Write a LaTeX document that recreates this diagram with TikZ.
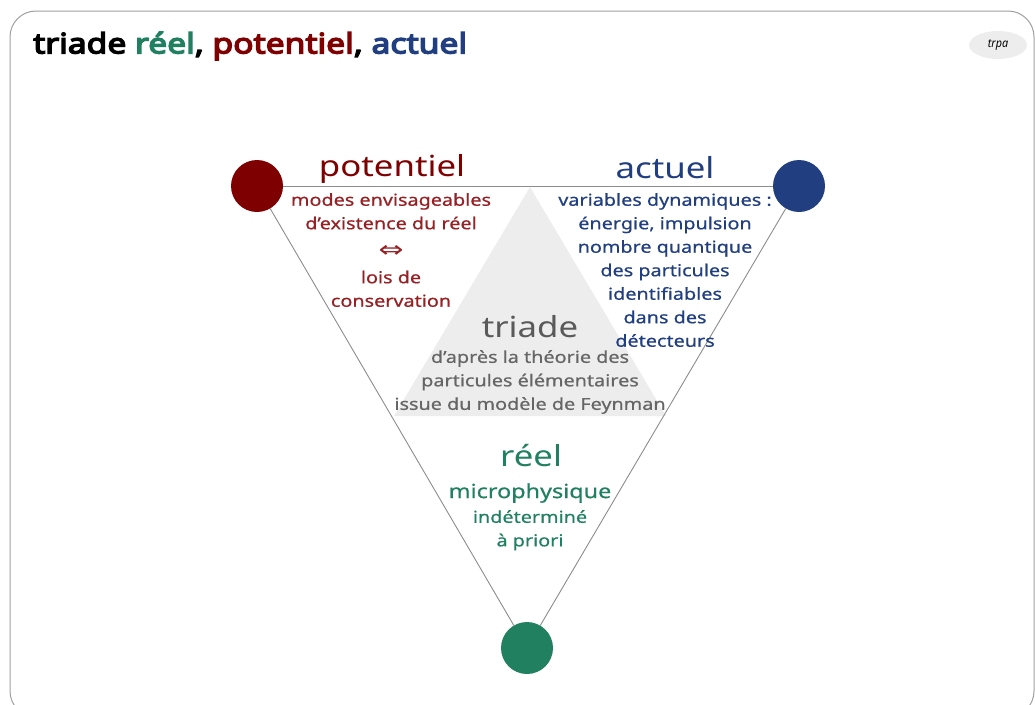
\documentclass[tikz,border=0pt]{standalone}
\usepackage{fontspec}
\usepackage{graphicx}
\setmainfont{Noto Sans}[FakeStretch=1.2]
\newfontfamily\dejavu{DejaVu Sans}
\usetikzlibrary{shapes.geometric}
\definecolor{cpot}{HTML}{7F0000}
\definecolor{cpott}{HTML}{962024}
\definecolor{cact}{HTML}{213F80}
\definecolor{creel}{HTML}{21805F}
\definecolor{ctri}{HTML}{5A5A5A}
\definecolor{ctrit}{HTML}{666666}
\definecolor{cline}{HTML}{8C8C8C}
\definecolor{cframe}{HTML}{A0A0A0}
\definecolor{cgray}{HTML}{EDEDED}
\tikzset{
  vertex/.style={circle,minimum size=52pt,inner sep=0pt},
  edge/.style={draw=cline,line width=0.9pt},
  bigtxt/.style={font=\fontsize{29}{34}\selectfont,inner sep=0pt,anchor=center},
  smalltxt/.style={font=\fontsize{16.5}{23.5}\selectfont\addfontfeature{FakeBold=0.6},align=center,inner sep=0pt,anchor=north},
}
\begin{document}
\begin{tikzpicture}[x=1pt,y=-1pt]
\useasboundingbox (0,0) rectangle (1035,704);
\draw[cframe,line width=1pt,rounded corners=26pt] (10,11) rectangle (1034,717);
% title
\node[anchor=west,inner sep=0pt,font=\fontsize{28}{30}\selectfont\addfontfeature{FakeBold=5}] (title) at (33,46)
  {triade \textcolor{creel}{réel}, \textcolor{cpot}{potentiel}, \textcolor{cact}{actuel}};
\node[ellipse,fill=cgray,minimum width=58pt,minimum height=28pt,inner sep=0pt,font=\fontsize{12}{14}\selectfont\itshape\addfontfeature{FakeStretch=0.9}] (tag) at (998,45) {trpa};
% gray inner triangle
\coordinate (g1) at (530,187);
\coordinate (g2) at (394,416);
\coordinate (g3) at (666,416);
\fill[cgray] (g1) -- (g2) -- (g3) -- cycle;
% vertices
\node[vertex] (p) at (257,186) {};
\node[vertex] (a) at (799,186) {};
\node[vertex] (r) at (527,648) {};
\draw[edge] (p.east) -- (a.west);
\draw[edge] (p) -- (r);
\draw[edge] (a) -- (r);
\node[vertex,fill=cpot] at (p) {};
\node[vertex,fill=cact] at (a) {};
\node[vertex,fill=creel] at (r) {};
% potentiel
\node[bigtxt,text=cpot] (pt) at (392,169) {potentiel};
\node[smalltxt,text=cpott] (pd) at (391,193) {modes envisageables\\d’existence du réel\\[5pt]{\dejavu\resizebox{25pt}{12pt}{⇔}}\\[2pt]lois de\\conservation};
% actuel
\node[bigtxt,text=cact] (at) at (665,168) {actuel};
\node[smalltxt,text=cact] (ad) at (665,193) {variables dynamiques :\\énergie, impulsion\\nombre quantique\\des particules\\identifiables\\dans des\\détecteurs};
% triade
\node[bigtxt,text=ctri] (tt) at (530,327) {triade};
\node[smalltxt,text=ctrit] (td) at (530,350) {d’après la théorie des\\particules élémentaires\\issue du modèle de Feynman};
% reel
\node[bigtxt,text=creel] (rt) at (531,456) {réel};
\node[inner sep=0pt,text=creel,font=\fontsize{19.5}{24}\selectfont\addfontfeature{FakeBold=0.6}] (rm) at (530,493) {microphysique};
\node[smalltxt,text=creel] (rd) at (530,510) {indéterminé\\à priori};
\end{tikzpicture}
\end{document}
